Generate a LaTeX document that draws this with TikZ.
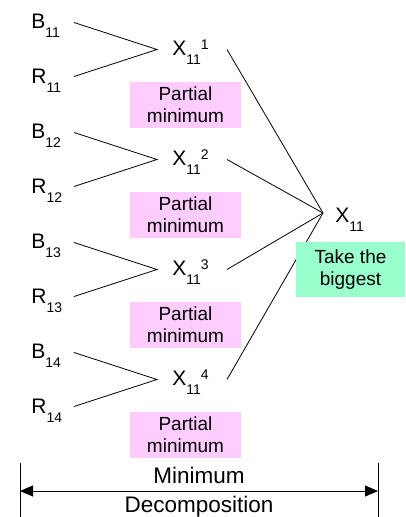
\documentclass[tikz,border=0pt]{standalone}
\usepackage{fontspec}
\setmainfont{Liberation Sans}
\usetikzlibrary{arrows.meta}
\definecolor{pinkfill}{RGB}{255,204,255}
\definecolor{greenfill}{RGB}{153,255,204}
\newcommand{\fs}[1]{\fontsize{#1}{#1}\selectfont}
\newcommand{\lowidx}[1]{\raisebox{-9pt}{\fs{14}#1}}
\newcommand{\highidx}[1]{\raisebox{6pt}{\fs{14}#1}}
\begin{document}
\begin{tikzpicture}[x=1pt,y=-1pt,line width=0.8pt,
  lab/.style={anchor=base west,inner sep=0pt,font=\fs{21}},
  notebox/.style={fill=#1,inner sep=0pt,align=center,font=\fontsize{19}{22.5}\selectfont},
  dimtext/.style={anchor=base,inner sep=0pt,font=\fs{22.5}}]
\useasboundingbox (0,0) rectangle (406,517);

% four partial-minimum groups
\foreach \k/\n in {0/1,1/2,2/3,3/4}{
  \pgfmathsetmacro\yc{49.5+110*\k}
  \node[lab] (b\n) at (31,\yc-21) {B\lowidx{1\n}};
  \node[lab] (r\n) at (31,\yc+34) {R\lowidx{1\n}};
  \node[lab] (x\n) at (172,\yc+6) {X\lowidx{11}\highidx{\n}};
  \coordinate (bs\n) at (74,\yc-27);
  \coordinate (rs\n) at (74,\yc+27);
  \coordinate (j\n) at (157,\yc);
  \coordinate (xo\n) at (227,\yc);
  \draw (bs\n) -- (j\n) -- (rs\n);
  \node[notebox=pinkfill,minimum width=111pt,minimum height=46pt] (p\n)
    at (185.5,\yc+55) {Partial\\minimum};
}

% overall maximum
\node[lab] (x) at (335,222) {X\lowidx{11}};
\coordinate (jx) at (323,213);
\foreach \n in {1,2,3,4}{\draw (xo\n) -- (jx);}
\node[notebox=greenfill,minimum width=109pt,minimum height=55pt] (take)
  at (350.5,269.5) {Take the\\biggest};

% dimension line
\coordinate (dl) at (20,463);
\coordinate (dr) at (378,463);
\coordinate (dlb) at (20,517);
\coordinate (drb) at (378,517);
\draw (dl) -- (dlb);
\draw (dr) -- (drb);
\coordinate (al) at (20,491);
\coordinate (ar) at (378,491);
\draw[{Triangle[length=13pt,width=11pt]}-{Triangle[length=13pt,width=11pt]}] (al) -- (ar);
\node[dimtext] (mintxt) at (199,483) {Minimum};
\node[dimtext] (dectxt) at (199,512) {Decomposition};
\end{tikzpicture}
\end{document}
